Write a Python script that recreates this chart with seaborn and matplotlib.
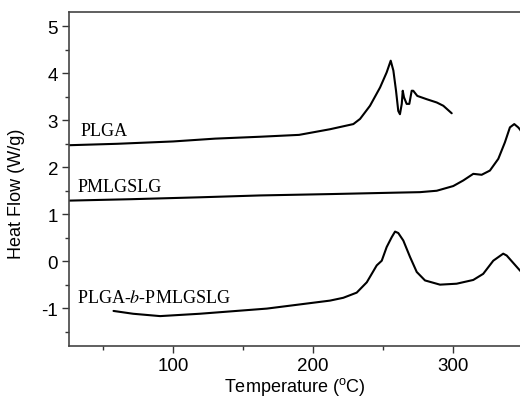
import matplotlib
matplotlib.use("Agg")
import matplotlib.pyplot as plt
import seaborn as sns
import pandas as pd
from matplotlib.ticker import MultipleLocator

# ---- data ----
plga_t = [26, 60, 100, 130, 162, 190, 212.1, 228.8, 233.6, 240.7, 247.9, 252.6,
          255.5, 257.4, 259.3, 260.9, 262.1, 263.4, 264.1, 265, 266.9, 268.8,
          270.5, 271.6, 274.5, 281.2, 288.4, 293.1, 299.1]
plga_hf = [2.47, 2.50, 2.55, 2.61, 2.65, 2.69, 2.81, 2.92, 3.03, 3.31, 3.70, 4.02,
           4.27, 4.06, 3.63, 3.20, 3.13, 3.35, 3.63, 3.49, 3.35, 3.35,
           3.63, 3.63, 3.52, 3.45, 3.38, 3.31, 3.15]

pmlgslg_t = [26, 70, 118.6, 162, 214, 260, 276.4, 288.4, 300.2, 307.4, 314.5,
             320.5, 326.4, 332.4, 337.1, 340.7, 343.8, 346.6, 348, 352]
pmlgslg_hf = [1.29, 1.32, 1.36, 1.40, 1.43, 1.46, 1.47, 1.50, 1.60, 1.72, 1.86,
              1.84, 1.93, 2.18, 2.53, 2.85, 2.92, 2.85, 2.80, 2.60]

blk_t = [57.4, 71.4, 90.7, 119, 167, 212.1, 221.6, 231.2, 238.4, 245.5, 249.1,
         252.6, 256.2, 258.6, 260.9, 264.5, 269.3, 274.1, 280, 290.7, 302.6,
         314.5, 321.6, 328.8, 335.9, 338.4, 347.9, 352]
blk_hf = [-1.06, -1.12, -1.17, -1.12, -1.01, -0.84, -0.78, -0.67, -0.45, -0.09, 0.01,
          0.30, 0.51, 0.63, 0.60, 0.44, 0.09, -0.23, -0.41, -0.50, -0.48,
          -0.40, -0.27, 0.01, 0.16, 0.12, -0.20, -0.32]

series_names = ["PLGA", "PMLGSLG", "PLGA-b-PMLGSLG"]
label_texts = ["PLGA", "PMLGSLG", "PLGA-$\\it{b}$-PMLGSLG"]
label_pos = [(33.6, 2.79), (31.4, 1.60), (31.4, -0.77)]

xticks = [100, 200, 300]
yticks = [-1, 0, 1, 2, 3, 4, 5]

df = pd.concat([
    pd.DataFrame({"T": plga_t, "HF": plga_hf, "s": series_names[0]}),
    pd.DataFrame({"T": pmlgslg_t, "HF": pmlgslg_hf, "s": series_names[1]}),
    pd.DataFrame({"T": blk_t, "HF": blk_hf, "s": series_names[2]}),
], ignore_index=True)

sns.set_theme(style="ticks")
plt.rcParams['font.family'] = ['Liberation Sans', 'DejaVu Sans']
plt.rcParams['mathtext.fontset'] = 'custom'
plt.rcParams['mathtext.rm'] = 'Liberation Sans'
plt.rcParams['axes.unicode_minus'] = False
plt.rcParams['text.color'] = 'black'
plt.rcParams['axes.labelcolor'] = 'black'

fig = plt.figure(figsize=(5.2, 4.02), dpi=100)
ax = fig.add_axes([0.133, 0.1376, 0.867, 0.8304])

for name in series_names:
    sub = df[df["s"] == name]
    sns.lineplot(data=sub, x="T", y="HF", sort=False, estimator=None,
                 color="black", linewidth=1.5, ax=ax, legend=False)

ax.set_xlim(25.7, 347.9)
ax.set_ylim(-1.80, 5.31)
ax.set_xticks(xticks)
ax.set_yticks(yticks)
ax.xaxis.set_minor_locator(MultipleLocator(50))
ax.yaxis.set_minor_locator(MultipleLocator(0.5))
ax.tick_params(which="major", direction="out", length=5, width=1, color="#333333",
               labelsize=13.5, pad=3, labelcolor="black")
ax.tick_params(which="minor", direction="out", length=3, width=1, color="#333333")

for sp in ["left", "bottom", "top"]:
    ax.spines[sp].set_color("#444444")
    ax.spines[sp].set_linewidth(1.2)
ax.spines["right"].set_visible(False)

ax.set_xlabel("Temperature ($^{\\mathrm{o}}$C)", fontsize=13, labelpad=1)
ax.set_ylabel("Heat Flow (W/g)", fontsize=13)
ax.yaxis.set_label_coords(-0.098, 0.457)

for txt, (x, y) in zip(label_texts, label_pos):
    ax.text(x, y, txt, fontsize=13, va="center", ha="left",
            family=["Liberation Serif", "DejaVu Serif"],
            math_fontfamily="stix")

fig.savefig("out.png", dpi=100)
